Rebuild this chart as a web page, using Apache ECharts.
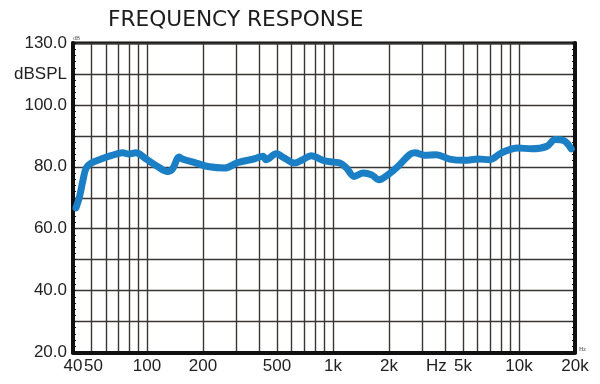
<!DOCTYPE html>
<html>
<head>
<meta charset="utf-8">
<script src="https://cdn.jsdelivr.net/npm/echarts@6/dist/echarts.min.js"></script>
<style>
html,body{margin:0;padding:0;background:#fff;}
#chart{width:600px;height:384px;}
</style>
</head>
<body>
<div id="chart"></div>
<script>
// Curve data (frequency in Hz, level in chart units)
var freqs = [41.5, 43.4, 45.3, 47.1, 50.2, 56.6, 64, 74, 80, 87, 99, 114, 129, 137, 149, 155, 184, 212, 262, 308, 379, 420, 436, 495, 549, 620, 687, 763, 884, 1004, 1093, 1182, 1300, 1455, 1613, 1768, 1970, 2233, 2576, 2751, 3110, 3596, 4229, 5097, 6016, 6958, 8040, 9840, 11680, 14100, 15650, 17370, 19100];
var spl = [66.7, 70.4, 75.8, 79.6, 81.2, 82.5, 83.6, 84.5, 84.1, 84.5, 82.5, 80.1, 78.5, 79.3, 83.2, 82.5, 81.2, 80.1, 79.6, 81.4, 82.6, 83.4, 82.3, 84.2, 82.8, 81.2, 82.3, 83.6, 82.1, 81.5, 81.2, 79.6, 76.9, 78.0, 77.4, 75.8, 77.4, 80.1, 83.9, 84.5, 83.7, 83.9, 82.5, 82.1, 82.5, 82.3, 84.5, 86.1, 85.8, 86.6, 88.8, 88.5, 85.8];

// X grid line frequencies and tick labels (label positions as placed in the picture)
var gridFreqs = [40, 50, 60, 70, 80, 90, 100, 200, 300, 400, 500, 600, 700, 800, 900, 1000, 2000, 3000, 4000, 5000, 6000, 7000, 8000, 9000, 10000, 20000];
var xLabelFreqs = [40, 51.5, 100, 200, 500, 1000, 2000, 3600, 5000, 10000, 20000];
var xLabelTexts = ['40', '50', '100', '200', '500', '1k', '2k', 'Hz', '5k', '10k', '20k'];

// Y tick labels (axis value -> text)
var yTickValues = [120, 110, 100, 80, 60, 40, 20];
var yTickTexts = ['130.0', 'dBSPL', '100.0', '80.0', '60.0', '40.0', '20.0'];

var FMIN = 40, FMAX = 20000;
function lg(v){ return Math.log10(v); }

var seriesData = freqs.map(function(f, i){ return [lg(f), spl[i]]; });

function xLabelFormatter(v){
  for (var i = 0; i < xLabelFreqs.length; i++) {
    if (Math.abs(lg(xLabelFreqs[i]) - v) < 1e-6) return xLabelTexts[i];
  }
  return '';
}
function yLabelFormatter(v){
  for (var i = 0; i < yTickValues.length; i++) {
    if (Math.abs(yTickValues[i] - v) < 1e-6) return yTickTexts[i];
  }
  return '';
}

var chart = echarts.init(document.getElementById('chart'), null, {renderer: 'canvas'});
var gridColor = '#3a3634';
var option = {
  backgroundColor: '#ffffff',
  animation: false,
  title: {
    text: 'FREQUENCY RESPONSE',
    left: 103,
    top: 4,
    textStyle: {fontFamily: "'DejaVu Sans ExtraLight', 'DejaVu Sans'", fontSize: 21.7, fontWeight: 'normal', color: '#1c1c1c'}
  },
  grid: {
    left: 73, right: 25, top: 43, bottom: 31.5,
    show: true, borderColor: '#111', borderWidth: 3, backgroundColor: 'transparent'
  },
  xAxis: [{
    type: 'value',
    min: lg(FMIN), max: lg(FMAX),
    name: 'Hz',
    nameLocation: 'end',
    nameGap: 4,
    nameTextStyle: {fontSize: 6, color: '#555', align: 'left', verticalAlign: 'bottom', fontFamily: 'Liberation Serif'},
    axisLine: {show: true, lineStyle: {color: '#111', width: 4}},
    axisTick: {show: false, customValues: gridFreqs.map(lg)},
    splitLine: {show: true, lineStyle: {color: gridColor, width: 1.4}},
    axisLabel: {
      customValues: xLabelFreqs.map(lg),
      formatter: xLabelFormatter,
      showMinLabel: true,
      showMaxLabel: true,
      hideOverlap: false,
      margin: 5,
      fontFamily: 'Liberation Sans', fontSize: 17, color: '#222'
    }
  }],
  yAxis: [{
    type: 'value',
    min: 20, max: 120, interval: 10,
    position: 'left',
    name: 'dB',
    nameLocation: 'end',
    nameGap: 2,
    nameTextStyle: {fontSize: 6, color: '#555', align: 'left', verticalAlign: 'bottom', fontFamily: 'Liberation Serif'},
    axisLine: {show: true, lineStyle: {color: '#111', width: 4}},
    axisTick: {show: true, inside: true, length: 3, lineStyle: {color: '#111', width: 1}},
    minorTick: {show: true, splitNumber: 5, length: 3, lineStyle: {color: '#111', width: 1}},
    splitLine: {show: true, lineStyle: {color: gridColor, width: 1.4}},
    axisLabel: {
      formatter: yLabelFormatter,
      showMinLabel: true,
      showMaxLabel: true,
      margin: 6,
      fontFamily: 'Liberation Sans', fontSize: 17, color: '#222'
    }
  }, {
    type: 'value',
    min: 20, max: 120, interval: 10,
    position: 'right',
    axisLine: {show: true, lineStyle: {color: '#111', width: 4}},
    axisTick: {show: true, inside: true, length: 3, lineStyle: {color: '#111', width: 1}},
    minorTick: {show: true, splitNumber: 5, length: 3, lineStyle: {color: '#111', width: 1}},
    splitLine: {show: false},
    axisLabel: {show: false}
  }],
  series: [{
    type: 'line',
    data: seriesData,
    showSymbol: false,
    smooth: 0.35,
    lineStyle: {color: '#1a7fc5', width: 7, cap: 'round', join: 'round'},
    z: 5
  }]
};
chart.setOption(option);
</script>
</body>
</html>
